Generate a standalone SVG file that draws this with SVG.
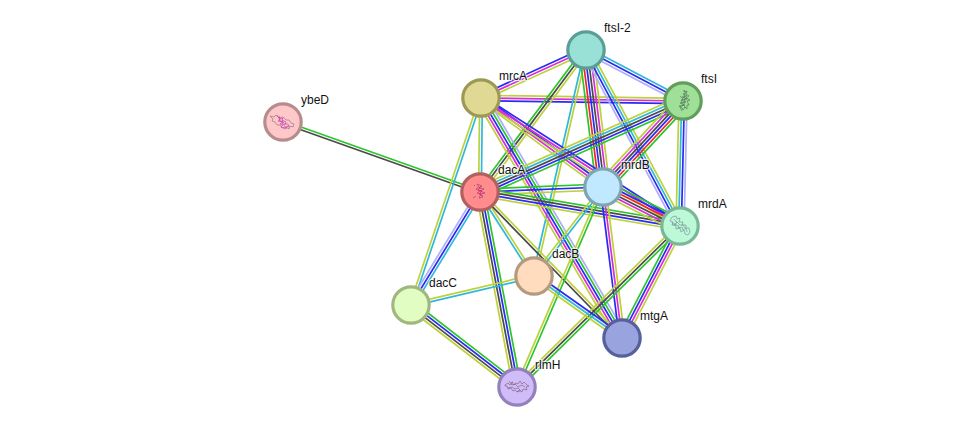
<svg xmlns="http://www.w3.org/2000/svg" width="975" height="432" viewBox="0 0 975 432">
<style>
line{stroke-width:1.7;fill:none}
.g{stroke:#2cc52c}.r{stroke:#f52424}.b{stroke:#2a2af5}.k{stroke:#4a4a4a}.m{stroke:#d92cd9}.c{stroke:#2fb8d8}.l{stroke:#bcd23c}.v{stroke:#aeaefa}
circle{stroke-width:3.2}
text{font-family:"Liberation Sans",Arial,sans-serif;font-size:12px;fill:#111;stroke:#fff;stroke-width:2.5px;stroke-opacity:.7;paint-order:stroke;stroke-linejoin:round}
.s{fill:none;stroke-width:.6;stroke-linejoin:round}
</style>
<rect width="975" height="432" fill="#fff"/>
<g id="connectors">
<g transform="translate(283 122) rotate(19.56)"><line x2="209.1" y1="-1.35" y2="-1.35" class="g"/><line x2="209.1" y1="1.35" y2="1.35" class="k"/></g>
<g transform="translate(481 98) rotate(-24.57)"><line x2="115.5" y1="-2.7" y2="-2.7" class="b"/><line x2="115.5" class="m"/><line x2="115.5" y1="2.7" y2="2.7" class="l"/></g>
<g transform="translate(586 50) rotate(27.73)"><line x2="109.6" y1="-2.7" y2="-2.7" class="c"/><line x2="109.6" class="b"/><line x2="109.6" y1="2.7" y2="2.7" class="v"/></g>
<g transform="translate(481 98) rotate(.85)"><line x2="202" y1="-2.7" y2="-2.7" class="l"/><line x2="202" class="m"/><line x2="202" y1="2.7" y2="2.7" class="b"/></g>
<g transform="translate(480 192) rotate(-53.26)"><line x2="177.2" y1="-2.7" y2="-2.7" class="g"/><line x2="177.2" class="k"/><line x2="177.2" y1="2.7" y2="2.7" class="l"/></g>
<g transform="translate(534 276) rotate(-77.04)"><line x2="231.9" y1="-1.35" y2="-1.35" class="c"/><line x2="231.9" y1="1.35" y2="1.35" class="l"/></g>
<g transform="translate(586 50) rotate(82.93)"><line x2="138" y1="6.75" y2="6.75" class="g"/><line x2="138" y1="4.05" y2="4.05" class="r"/><line x2="138" y1="1.35" y2="1.35" class="b"/><line x2="138" y1="-1.35" y2="-1.35" class="k"/><line x2="138" y1="-4.05" y2="-4.05" class="m"/><line x2="138" y1="-6.75" y2="-6.75" class="l"/></g>
<g transform="translate(586 50) rotate(61.89)"><line x2="199.5" y1="4.05" y2="4.05" class="v"/><line x2="199.5" y1="1.35" y2="1.35" class="b"/><line x2="199.5" y1="-1.35" y2="-1.35" class="c"/><line x2="199.5" y1="-4.05" y2="-4.05" class="l"/></g>
<g transform="translate(481 98) rotate(36.11)"><line x2="151" y1="-2.7" y2="-2.7" class="b"/><line x2="151" class="m"/><line x2="151" y1="2.7" y2="2.7" class="l"/></g>
<g transform="translate(481 98) rotate(32.75)"><line x2="236.6" y1="2.7" y2="2.7" class="l"/><line x2="236.6" class="m"/><line x2="236.6" y1="-2.7" y2="-2.7" class="b"/></g>
<g transform="translate(481 98) rotate(90.61)"><line x2="94" y1="1.35" y2="1.35" class="l"/><line x2="94" y1="-1.35" y2="-1.35" class="c"/></g>
<g transform="translate(481 98) rotate(108.68)"><line x2="218.5" y1="1.35" y2="1.35" class="l"/><line x2="218.5" y1="-1.35" y2="-1.35" class="c"/></g>
<g transform="translate(481 98) rotate(59.57)"><line x2="278.4" y1="5.4" y2="5.4" class="l"/><line x2="278.4" y1="2.7" y2="2.7" class="m"/><line x2="278.4" class="b"/><line x2="278.4" y1="-2.7" y2="-2.7" class="g"/><line x2="278.4" y1="-5.4" y2="-5.4" class="v"/></g>
<g transform="translate(480 192) rotate(-24.14)"><line x2="222.5" y1="-5.4" y2="-5.4" class="l"/><line x2="222.5" y1="-2.7" y2="-2.7" class="c"/><line x2="222.5" class="k"/><line x2="222.5" y1="2.7" y2="2.7" class="b"/><line x2="222.5" y1="5.4" y2="5.4" class="g"/></g>
<g transform="translate(603 187) rotate(-47.07)"><line x2="117.5" y1="-6.75" y2="-6.75" class="l"/><line x2="117.5" y1="-4.05" y2="-4.05" class="m"/><line x2="117.5" y1="-1.35" y2="-1.35" class="k"/><line x2="117.5" y1="1.35" y2="1.35" class="b"/><line x2="117.5" y1="4.05" y2="4.05" class="r"/><line x2="117.5" y1="6.75" y2="6.75" class="g"/></g>
<g transform="translate(683 101) rotate(91.37)"><line x2="125" y1="4.05" y2="4.05" class="l"/><line x2="125" y1="1.35" y2="1.35" class="c"/><line x2="125" y1="-1.35" y2="-1.35" class="b"/><line x2="125" y1="-4.05" y2="-4.05" class="v"/></g>
<g transform="translate(480 192) rotate(-2.33)"><line x2="123.1" y1="-3" y2="-3" class="g"/><line x2="123.1" class="b"/><line x2="123.1" y1="3" y2="3" class="l"/></g>
<g transform="translate(480 192) rotate(9.65)"><line x2="202.9" y1="-4.05" y2="-4.05" class="g"/><line x2="202.9" y1="-1.35" y2="-1.35" class="k"/><line x2="202.9" y1="1.35" y2="1.35" class="b"/><line x2="202.9" y1="4.05" y2="4.05" class="l"/></g>
<g transform="translate(480 192) rotate(57.26)"><line x2="99.9" y1="1.35" y2="1.35" class="c"/><line x2="99.9" y1="-1.35" y2="-1.35" class="l"/></g>
<g transform="translate(480 192) rotate(45.8)"><line x2="203.7" y1="1.35" y2="1.35" class="k"/><line x2="203.7" y1="-1.35" y2="-1.35" class="l"/></g>
<g transform="translate(480 192) rotate(121.4)"><line x2="132.4" y1="2.7" y2="2.7" class="v"/><line x2="132.4" class="b"/><line x2="132.4" y1="-2.7" y2="-2.7" class="c"/></g>
<g transform="translate(480 192) rotate(79.26)"><line x2="198.5" y1="4.05" y2="4.05" class="l"/><line x2="198.5" y1="1.35" y2="1.35" class="k"/><line x2="198.5" y1="-1.35" y2="-1.35" class="b"/><line x2="198.5" y1="-4.05" y2="-4.05" class="g"/></g>
<g transform="translate(603 187) rotate(26.86)"><line x2="86.3" y1="-6.75" y2="-6.75" class="g"/><line x2="86.3" y1="-4.05" y2="-4.05" class="b"/><line x2="86.3" y1="-1.35" y2="-1.35" class="r"/><line x2="86.3" y1="1.35" y2="1.35" class="k"/><line x2="86.3" y1="4.05" y2="4.05" class="m"/><line x2="86.3" y1="6.75" y2="6.75" class="l"/></g>
<g transform="translate(603 187) rotate(127.79)"><line x2="112.6" y1="1.35" y2="1.35" class="l"/><line x2="112.6" y1="-1.35" y2="-1.35" class="c"/></g>
<g transform="translate(603 187) rotate(113.27)"><line x2="217.7" y1="1.35" y2="1.35" class="l"/><line x2="217.7" y1="-1.35" y2="-1.35" class="g"/></g>
<g transform="translate(603 187) rotate(82.83)"><line x2="152.2" y1="2.7" y2="2.7" class="b"/><line x2="152.2" class="m"/><line x2="152.2" y1="-2.7" y2="-2.7" class="l"/></g>
<g transform="translate(680 226) rotate(117.38)"><line x2="126.1" y1="4.05" y2="4.05" class="g"/><line x2="126.1" y1="1.35" y2="1.35" class="b"/><line x2="126.1" y1="-1.35" y2="-1.35" class="m"/><line x2="126.1" y1="-4.05" y2="-4.05" class="l"/></g>
<g transform="translate(680 226) rotate(135.36)"><line x2="229.1" y1="2.7" y2="2.7" class="l"/><line x2="229.1" class="k"/><line x2="229.1" y1="-2.7" y2="-2.7" class="g"/></g>
<g transform="translate(534 276) rotate(166.73)"><line x2="126.4" y1="1.35" y2="1.35" class="l"/><line x2="126.4" y1="-1.35" y2="-1.35" class="c"/></g>
<g transform="translate(534 276) rotate(35.17)"><line x2="107.6" y1="-2.7" y2="-2.7" class="b"/><line x2="107.6" class="c"/><line x2="107.6" y1="2.7" y2="2.7" class="l"/></g>
<g transform="translate(411 305) rotate(37.72)"><line x2="134" y1="-4.05" y2="-4.05" class="g"/><line x2="134" y1="-1.35" y2="-1.35" class="b"/><line x2="134" y1="1.35" y2="1.35" class="k"/><line x2="134" y1="4.05" y2="4.05" class="l"/></g>
</g>
<g id="ybeD"><circle cx="283" cy="122" r="18.2" fill="#ffc8c8" stroke="#b88c8c"/><path class="s" stroke="#8a6a7a" d="M270 116l4 1 2-2 3 3 4-1 3 3 3 0 2 3 3 1-1 3-3-1-1 3-3-2-4 1-2-3-3 0-2-3-3-1 1-2z"/><path class="s" stroke="#c02cb0" d="M277 115l3 5-2 1 5 1-3 2 3 1-2 2 5 2 1-3 2 1-1-3-3 0 1-2-4-2 1-2-3 1-1-3M279 119l4 5 3 4M282 120l3 5"/><text x="301" y="104">ybeD</text></g>
<g id="mrcA"><circle cx="481" cy="98" r="18.2" fill="#dfd993" stroke="#9d9955"/><text x="499" y="80">mrcA</text></g>
<g id="ftsI-2"><circle cx="586" cy="50" r="18.2" fill="#99e0d6" stroke="#5a9e96"/><text x="604" y="32">ftsI-2</text></g>
<g id="ftsI"><circle cx="683" cy="101" r="18.2" fill="#9fdf97" stroke="#5f9f5a"/><path class="s" stroke="#4e6e56" d="M684 90l2 3-3 1 4 2-5 1 5 2-6 1 5 2-6 1 4 2-5 1 3 2 1 2 2-3 2 2 0-4 2 0-2-4 3-1-4-2 3-2-3-2 1-3-3 1zM680 96l3 3-2 3 3 3-4 2 2 4M684 94l1 5-1 4 1 5"/><text x="701" y="83">ftsI</text></g>
<g id="dacA"><circle cx="480" cy="192" r="18.2" fill="#ff8d8d" stroke="#b35f5f"/><path class="s" stroke="#b02a70" d="M477 184l5 2-3 2 5 1-4 2 5 2-5 1 3 3-4 1 2-4-4-1 3-2-4-2 3-2-2-3zM481 186l-3 4 4 1-3 3 4 2M475 186l-1-1M476 196l-3 2"/><text x="498" y="174">dacA</text></g>
<g id="mrdB"><circle cx="603" cy="187" r="18.2" fill="#c0e8ff" stroke="#7fa5b5"/><text x="621" y="169">mrdB</text></g>
<g id="mrdA"><circle cx="680" cy="226" r="18.2" fill="#bdf8d8" stroke="#78b895"/><path class="s" stroke="#6d8a92" d="M672 217l4-1 1 3 3-1-1 4 4 0-1 3 4 0 0 3 3 0 1 4-2 3-3-1-1-4-3 2-1-4-4 1 0-4-4 0 1-3-3-1zM674 219l3 4-3 1 5 2-1 2 4-1 1 3 3-2 1 4M676 221l4 4 3 0 2 3M672 222l3 4"/><text x="698" y="208">mrdA</text></g>
<g id="dacB"><circle cx="534" cy="276" r="18.2" fill="#ffdcbd" stroke="#b59a80"/><text x="552" y="258">dacB</text></g>
<g id="dacC"><circle cx="411" cy="305" r="18.2" fill="#e2fdc2" stroke="#a0b880"/><text x="429" y="287">dacC</text></g>
<g id="mtgA"><circle cx="622" cy="338" r="18.2" fill="#99a4de" stroke="#55609c"/><text x="640" y="320">mtgA</text></g>
<g id="rlmH"><circle cx="517" cy="387" r="18.2" fill="#d0bcf8" stroke="#9480bc"/><path class="s" stroke="#7a5a70" d="M505 385l3-2 2 2 2-3 2 3 2-2 2 1 2-3 2 3 2-2 3 3 2 1-3 1 1 3-4-1-1 3-3-2-2 2-2-2-2 1-2-3-3 1-1-3-2 0zM509 381l3 4 3-1 3 3 4-2 3 2M508 388l4-1 3 2 3-1 3 3M517 392l3-1M511 383l2-1"/><text x="535" y="369">rlmH</text></g>
</svg>
